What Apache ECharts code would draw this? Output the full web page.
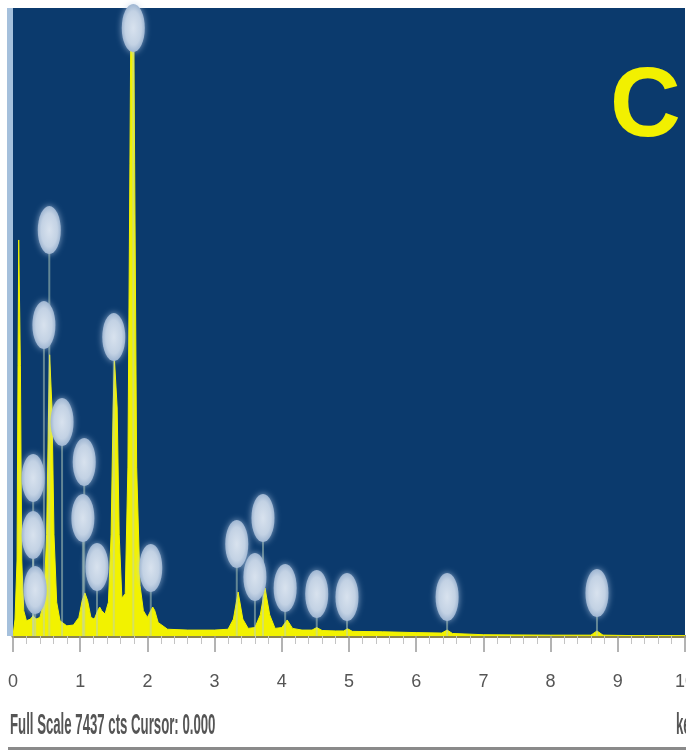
<!DOCTYPE html>
<html>
<head>
<meta charset="utf-8">
<script src="https://cdn.jsdelivr.net/npm/echarts@6/dist/echarts.min.js"></script>
<style>
  html, body { margin: 0; padding: 0; background: #fff; }
  #main { width: 686px; height: 752px; }
</style>
</head>
<body>
<div id="main"></div>
<script>
// ---------- spectrum (keV / counts)
var energy = [
  0, 0.03, 0.06, 0.075, 0.085, 0.10, 0.11, 0.13, 0.16,
  0.2, 0.26, 0.30, 0.34, 0.40,
  0.46, 0.50, 0.53, 0.545, 0.565, 0.58, 0.61, 0.65, 0.70,
  0.8, 0.9, 0.98, 1.03, 1.07, 1.11, 1.16,
  1.21, 1.26, 1.29, 1.32, 1.37,
  1.42, 1.46, 1.49, 1.51, 1.535, 1.55, 1.58, 1.62,
  1.67, 1.71, 1.74, 1.755, 1.795, 1.81, 1.84, 1.89, 1.94,
  2.0, 2.05, 2.08, 2.11, 2.16, 2.3,
  2.6, 3.0, 3.2, 3.28, 3.35, 3.42, 3.5, 3.6, 3.68, 3.75, 3.82, 3.9,
  4.0, 4.08, 4.16, 4.3, 4.45, 4.52, 4.6, 4.8, 4.92, 4.98, 5.05,
  5.5, 6.0, 6.38, 6.46, 6.54, 7.0, 8.0, 8.6, 8.69, 8.78, 9.2, 10
];
var counts = [
  0, 200, 900, 3200, 4690, 4690, 3200, 900, 300,
  180, 200, 240, 200, 220,
  400, 1200, 2700, 3330, 3330, 2700, 1200, 400, 180,
  120, 130, 220, 420, 510, 420, 220,
  200, 300, 343, 300, 260,
  400, 1200, 2700, 3270, 3270, 2700, 1200, 450,
  500, 2000, 5600, 7437, 7437, 5600, 2000, 600, 300,
  220, 300, 343, 300, 160, 80,
  70, 70, 80, 200, 521, 200, 90, 100, 250, 568, 250, 90,
  100, 190, 90, 70, 70, 100, 65, 60, 60, 85, 55,
  50, 40, 35, 70, 30, 15, 10, 10, 60, 10, 5, 5
];

// ---------- peak label markers (ellipses)
var labelKeV = [1.79, 0.54, 0.46, 1.50, 0.73, 1.06, 0.30, 1.04, 0.30, 1.25, 2.05, 0.33,
  3.33, 3.72, 3.60, 4.05, 4.52, 4.97, 6.46, 8.69];
var labelCounts = [7200, 4807, 3682, 3540, 2534, 2060, 1871, 1397, 1196, 817, 805, 545,
  1089, 1397, 699, 568, 497, 462, 462, 509];

var fullScale = 7437;
var footerText = "Full Scale 7437 cts Cursor: 0.000";
var unitText = "keV";
var panelText = "C";

var chart = echarts.init(document.getElementById("main"));

var spectrum = energy.map(function (e, i) {
  return [e, counts[i]];
});
var labels = labelKeV.map(function (e, i) {
  return [e, labelCounts[i]];
});

var option = {
  backgroundColor: "#fff",
  animation: false,
  grid: {
    left: 13,
    right: 1,
    top: 8,
    bottom: 116,
    outerBoundsMode: "none",
    containLabel: false,
    show: true,
    backgroundColor: "#0b3a6d",
    borderWidth: 0,
  },
  xAxis: {
    type: "value",
    min: 0,
    max: 10,
    interval: 1,
    axisLine: { show: true, lineStyle: { color: "#8c8550", width: 3 } },
    axisTick: { show: true, length: 16, lineStyle: { color: "#9a9a9a", width: 1.5 } },
    minorTick: { show: true, splitNumber: 5, length: 8, lineStyle: { color: "#c4c4c4" } },
    axisLabel: {
      margin: 37,
      fontSize: 18,
      color: "#555",
      fontFamily: "Liberation Sans",
    },
    splitLine: { show: false },
  },
  yAxis: {
    type: "value",
    min: 0,
    max: fullScale,
    show: false,
  },
  series: [
    {
      type: "line",
      data: spectrum,
      symbol: "none",
      z: 2,
      lineStyle: { color: "#f2f200", width: 1 },
      areaStyle: { color: "#f2f200", opacity: 1 },
    },
    {
      type: "custom",
      data: labels,
      z: 3,
      renderItem: function (params, api) {
        var top = api.coord([api.value(0), api.value(1)]);
        var base = api.coord([api.value(0), 0]);
        return {
          type: "group",
          children: [
            {
              type: "line",
              shape: { x1: top[0], y1: top[1], x2: base[0], y2: base[1] },
              style: { stroke: "rgba(185,210,190,0.5)", lineWidth: 2 },
            },
            {
              type: "circle",
              x: top[0],
              y: top[1],
              scaleX: 0.48,
              shape: { cx: 0, cy: 0, r: 24 },
              style: {
                fill: new echarts.graphic.RadialGradient(0.5, 0.5, 0.5, [
                  { offset: 0, color: "#d8e2ee" },
                  { offset: 0.7, color: "#c3d2e4" },
                  { offset: 1, color: "#9fb6d2" },
                ]),
                shadowBlur: 6,
                shadowColor: "rgba(190,210,235,0.7)",
              },
            },
          ],
        };
      },
    },
  ],
  graphic: [
    // left edge strip
    { type: "rect", left: 7, top: 8, shape: { width: 6, height: 628 }, style: { fill: "#a5c0dc" }, z: 10 },
    // panel letter
    {
      type: "text",
      left: 610,
      top: 60,
      style: { text: panelText, fill: "#f2f000", font: "bold 98px 'Liberation Sans'" },
      z: 10,
    },
    // footer
    {
      type: "text",
      x: 10,
      y: 711,
      scaleX: 0.44,
      style: { text: footerText, fill: "#555", font: "bold 30px 'Liberation Sans'" },
      z: 10,
    },
    {
      type: "text",
      x: 676,
      y: 711,
      scaleX: 0.44,
      style: { text: unitText, fill: "#555", font: "bold 30px 'Liberation Sans'" },
      z: 10,
    },
    // bottom rule
    { type: "rect", left: 8, top: 747, shape: { width: 678, height: 3 }, style: { fill: "#8a8a8a" }, z: 10 },
  ],
};

chart.setOption(option);
</script>
</body>
</html>
